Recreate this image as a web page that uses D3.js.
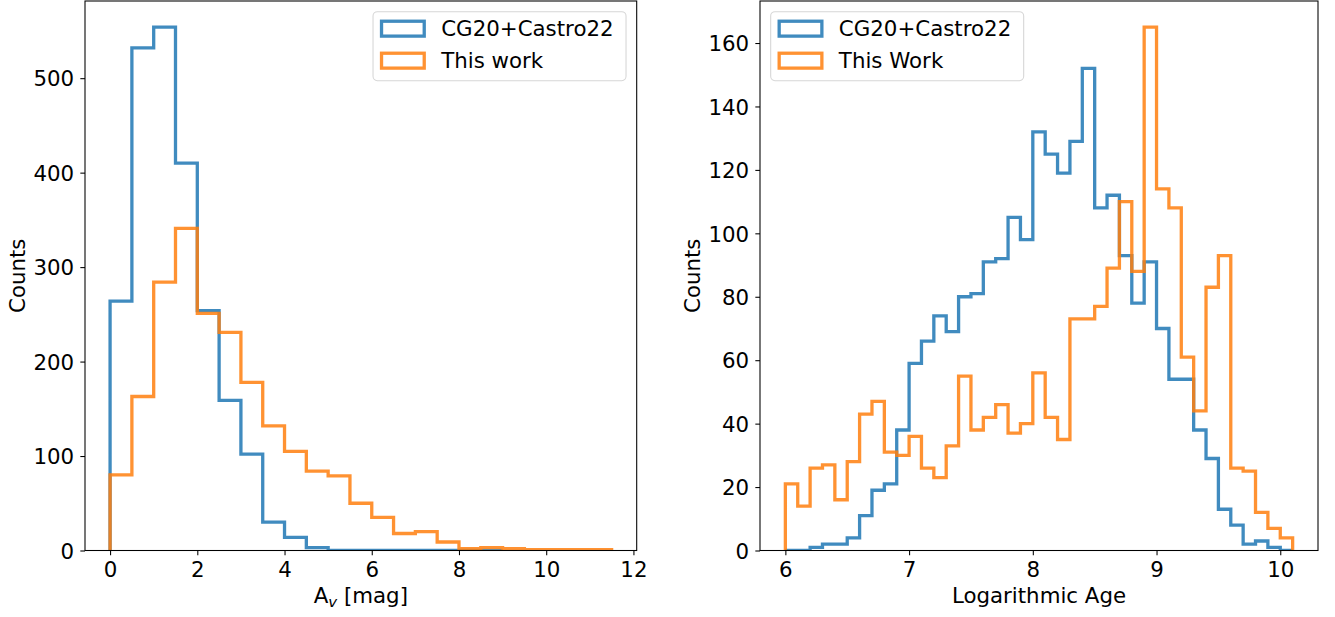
<!DOCTYPE html>
<html><head><meta charset="utf-8">
<script src="https://cdn.jsdelivr.net/npm/d3@7"></script>
<style>body{margin:0;background:#fff} text{font-family:"DejaVu Sans",sans-serif;fill:#000}</style>
</head><body><svg id="c" width="1335" height="617"></svg>
<script>
// ---- data ----
const avBinStart = 0, avBinWidth = 0.5;
const avCG   = [264, 532, 554, 410, 254, 159, 102, 30, 14, 3, 0, 0, 0, 0, 0, 0, 0, 0];
const avThis = [80, 163, 284, 341, 251, 231, 178, 132, 105, 84, 79, 50, 35, 18, 20, 9, 2, 3, 2, 1, 1, 1, 1];
const ageBinStart = 6.0, ageBinWidth = 0.1;
const ageCG   = [0, 0, 1, 2, 2, 4, 11, 19, 21, 38,
                 59, 66, 74, 69, 80, 81, 91, 92, 105, 98,
                 132, 125, 119, 129, 152, 108, 112, 93, 78, 91,
                 70, 54, 54, 38, 29, 13, 8, 2, 3, 1,
                 0];
const ageThis = [21, 14, 26, 27, 16, 28, 43, 47, 31, 30,
                 36, 26, 23, 33, 55, 38, 42, 46, 37, 40,
                 56, 42, 35, 73, 73, 77, 89, 110, 88, 165,
                 114, 108, 61, 44, 83, 93, 26, 25, 12, 7,
                 4];
const avXTicks = [0, 2, 4, 6, 8, 10, 12];
const avYTicks = [0, 100, 200, 300, 400, 500];
const ageXTicks = [6, 7, 8, 9, 10];
const ageYTicks = [0, 20, 40, 60, 80, 100, 120, 140, 160];
const legendLeft = ["CG20+Castro22", "This work"];
const legendRight = ["CG20+Castro22", "This Work"];
const colors = ["#1f77b4", "#ff7f0e"];

// ---- drawing ----
const FS = 21.33, TICK = 4.67, PAD = 4.67, LW = 3.3, ALPHA = 0.85;
const svg = d3.select("#c");

function edges(start, width, n) {
  return d3.range(n + 1).map(i => +(start + i * width).toFixed(4));
}

function panel(o) {
  const series = o.series.map(s => ({...s, e: edges(s.start, s.width, s.values.length)}));
  const lo = d3.min(series, s => s.e[0]), hi = d3.max(series, s => s.e[s.e.length - 1]);
  const pad = 0.05 * (hi - lo);
  const yMax = d3.max(series, s => d3.max(s.values)) * 1.05;
  const x = d3.scaleLinear().domain([lo - pad, hi + pad]).range([o.left, o.right]);
  const y = d3.scaleLinear().domain([0, yMax]).range([o.bottom, o.top]);
  const g = svg.append("g");
  const cid = "clip" + o.id;
  g.append("clipPath").attr("id", cid).append("rect")
    .attr("x", o.left).attr("y", o.top).attr("width", o.right - o.left).attr("height", o.bottom - o.top);

  const line = d3.line().x(d => x(d[0])).y(d => y(d[1]));
  series.forEach(s => {
    const pts = [[s.e[0], 0]];
    s.values.forEach((v, i) => { pts.push([s.e[i], v]); pts.push([s.e[i + 1], v]); });
    pts.push([s.e[s.e.length - 1], 0]);
    g.append("path").attr("d", line(pts)).attr("fill", "none")
      .attr("stroke", s.color).attr("stroke-opacity", ALPHA).attr("stroke-width", LW)
      .attr("stroke-linejoin", "miter").attr("clip-path", `url(#${cid})`);
  });

  // axes
  const xa = g.append("g").attr("transform", `translate(0,${o.bottom})`)
    .call(d3.axisBottom(x).tickValues(o.xTicks).tickSize(TICK).tickPadding(PAD).tickFormat(d3.format("d")));
  xa.select(".domain").remove();
  xa.selectAll("text").attr("y", 26.5).attr("dy", 0).style("font-size", FS + "px");
  const ya = g.append("g").attr("transform", `translate(${o.left},0)`)
    .call(d3.axisLeft(y).tickValues(o.yTicks).tickSize(TICK).tickPadding(PAD + 1.5).tickFormat(d3.format("d")));
  ya.select(".domain").remove();
  ya.selectAll("text").attr("dy", "0.36em").style("font-size", FS + "px");
  g.selectAll(".tick line").attr("stroke", "#000").attr("stroke-width", 1.07);
  g.selectAll(".tick text").attr("fill", "#000").style("font-family", '"DejaVu Sans",sans-serif');

  g.append("rect").attr("x", o.left).attr("y", o.top).attr("width", o.right - o.left)
    .attr("height", o.bottom - o.top).attr("fill", "none").attr("stroke", "#000").attr("stroke-width", 1.07);

  // labels
  const xl = g.append("text").attr("x", (o.left + o.right) / 2).attr("y", 603)
    .attr("text-anchor", "middle").style("font-size", FS + "px");
  o.xLabel(xl);
  g.append("text").attr("transform", `translate(${o.yLabelX},${(o.top + o.bottom) / 2}) rotate(-90)`)
    .attr("text-anchor", "middle").style("font-size", FS + "px").text("Counts");

  // legend
  const LWd = 253, LH = 69;
  const lx = o.legendSide === "right" ? o.right - 10.67 - LWd : o.left + 10.67;
  const ly = o.top + 10.67;
  const lg = g.append("g");
  lg.append("rect").attr("x", lx).attr("y", ly).attr("width", LWd).attr("height", LH)
    .attr("rx", 4.3).attr("fill", "#fff").attr("fill-opacity", 0.8)
    .attr("stroke", "#cccccc").attr("stroke-opacity", 0.8).attr("stroke-width", 1.07);
  o.legend.forEach((lab, i) => {
    const cy = ly + 17 + i * 32;
    lg.append("rect").attr("x", lx + 8.5).attr("y", cy - 7.45).attr("width", 42.7).attr("height", 14.9)
      .attr("fill", "none").attr("stroke", series[i].color).attr("stroke-opacity", ALPHA)
      .attr("stroke-width", LW).attr("stroke-linejoin", "miter");
    lg.append("text").attr("x", lx + 68.2).attr("y", cy + 7.7).style("font-size", FS + "px").text(lab);
  });
}

panel({
  id: "L", left: 85, right: 636.7, top: 1, bottom: 550.5,
  series: [
    {start: avBinStart, width: avBinWidth, values: avCG, color: colors[0]},
    {start: avBinStart, width: avBinWidth, values: avThis, color: colors[1]}
  ],
  xTicks: avXTicks, yTicks: avYTicks, yLabelX: 24.7,
  xLabel: t => {
    t.append("tspan").text("A");
    t.append("tspan").attr("dy", 4).style("font-size", (FS * 0.7) + "px").style("font-style", "italic").text("v");
    t.append("tspan").attr("dy", -4).text(" [mag]");
  },
  legend: legendLeft, legendSide: "right"
});

panel({
  id: "R", left: 760, right: 1318, top: 1, bottom: 550.5,
  series: [
    {start: ageBinStart, width: ageBinWidth, values: ageCG, color: colors[0]},
    {start: ageBinStart, width: ageBinWidth, values: ageThis, color: colors[1]}
  ],
  xTicks: ageXTicks, yTicks: ageYTicks, yLabelX: 699.7,
  xLabel: t => t.text("Logarithmic Age"),
  legend: legendRight, legendSide: "left"
});
</script></body></html>
